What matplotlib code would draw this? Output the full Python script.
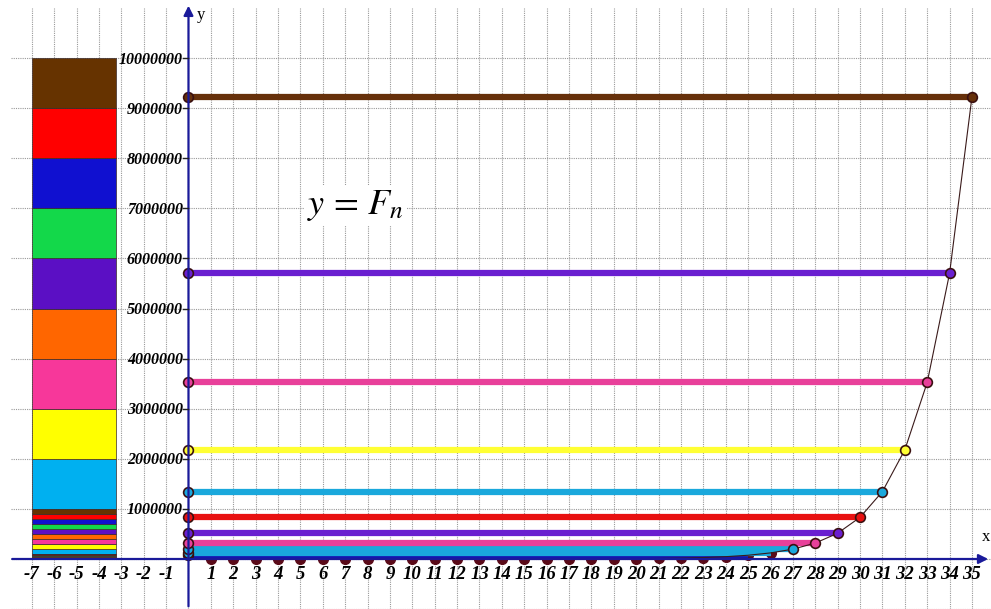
import matplotlib.pyplot as plt
from matplotlib.patches import Rectangle

# Fibonacci numbers F_1 .. F_35
n_values = list(range(1, 36))
fib = [1, 1, 2, 3, 5, 8, 13, 21, 34, 55, 89, 144, 233, 377, 610, 987,
       1597, 2584, 4181, 6765, 10946, 17711, 28657, 46368, 75025, 121393,
       196418, 317811, 514229, 832040, 1346269, 2178309, 3524578,
       5702887, 9227465]

# colour for each leading digit 1..9
digit_colors = ['#00b0f0', '#ffff00', '#f7379a', '#ff6600', '#5b0fc4',
                '#13d84a', '#1010d0', '#ff0000', '#663300']
line_colors = ['#1aa8dc', '#ffff33', '#e8409a', '#ff6600', '#6a1fd0',
               '#13d84a', '#1515b0', '#e81010', '#66300a']

# which terms get a horizontal line, and which of those get a coloured end dot
line_ns = list(range(25, 36))
dot_ns = list(range(27, 36))

# left stacked bar: unit blocks per decade
bar_decades = [1000000, 100000, 10000]

x_ticks = [-7, -6, -5, -4, -3, -2, -1] + list(range(1, 36))
y_ticks = [1000000 * k for k in range(1, 11)]

axis_blue = '#1a1a9a'
maroon = '#5a0a18'
serif_bi = dict(family='Liberation Serif', style='italic', weight='bold')

fig = plt.figure(figsize=(9.91, 6.09), dpi=100)
ax = fig.add_axes([0, 0, 1, 1])
ax.set_xlim(-8.42, 35.85)
ax.set_ylim(-998000, 11158000)
ax.axis('off')

# grid
for gx in range(-7, 37):
    ax.plot([gx, gx], [-1000000, 11000000], color='#999999', lw=0.8,
            ls=(0, (1, 1)), zorder=0)
for gy in range(-1, 11):
    ax.plot([-7.95, 36.5], [gy * 1000000, gy * 1000000], color='#999999',
            lw=0.8, ls=(0, (1, 1)), zorder=0)

# stacked colour bar
for dec in bar_decades:
    for d in range(1, 10):
        ax.add_patch(Rectangle((-7, d * dec), 3.75, dec,
                               facecolor=digit_colors[d - 1],
                               edgecolor='#3a2a2a', lw=0.5, zorder=1))

# curve through the points, small maroon dots underneath
ax.plot(n_values, fib, color='#3a1a1a', lw=0.8, zorder=4)
small_n = [n for n in n_values if n not in dot_ns]
ax.plot(small_n, [fib[n - 1] for n in small_n], 'o', ms=7, color=maroon,
        zorder=2)

# horizontal lines, start and end dots
for n in line_ns:
    v = fib[n - 1]
    c = line_colors[int(str(v)[0]) - 1]
    ax.plot([0, n], [v, v], color=c, lw=4.5, solid_capstyle='butt', zorder=3)
    ax.plot([0], [v], 'o', ms=7, mfc=c, mec='#3a1010', mew=1.2, zorder=5)
for n in dot_ns:
    v = fib[n - 1]
    c = line_colors[int(str(v)[0]) - 1]
    ax.plot([n], [v], 'o', ms=7, mfc=c, mec='#3a1010', mew=1.2, zorder=5)

# axes with arrows
ax.annotate('', xy=(35.85, 0), xytext=(-8.0, 0),
            arrowprops=dict(arrowstyle='-|>', color=axis_blue, lw=1.6,
                            mutation_scale=14), zorder=6)
ax.annotate('', xy=(0, 11100000), xytext=(0, -1000000),
            arrowprops=dict(arrowstyle='-|>', color=axis_blue, lw=1.6,
                            mutation_scale=14), zorder=6)
ax.text(35.8, 280000, 'x', family='Liberation Serif', size=12,
        ha='right', va='bottom', zorder=7)
ax.text(0.55, 10850000, 'y', family='Liberation Serif', size=12,
        ha='center', va='center', zorder=7)

# ticks and labels
for t in x_ticks:
    ax.text(t, -130000, str(t), ha='center', va='top', size=13.5, zorder=7,
            **serif_bi)
for t in y_ticks:
    ax.plot([-0.25, 0], [t, t], color='#222222', lw=1, zorder=6)
    ax.text(-0.25, t - 30000, str(t), ha='right', va='center', size=11.5,
            zorder=7, **serif_bi)

ax.text(7.45, 7050000, r'$y\, =\, F_n$', fontsize=26, ha='center',
        va='center', math_fontfamily='stix', zorder=7,
        bbox=dict(facecolor='white', edgecolor='none', pad=2))

fig.savefig('out.png', dpi=100)
